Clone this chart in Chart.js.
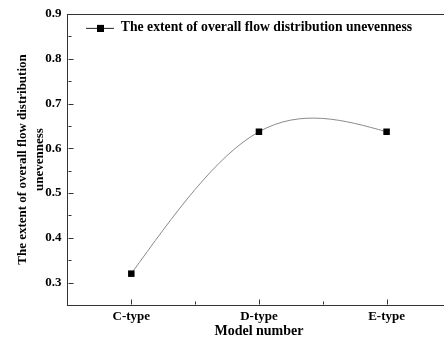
<!DOCTYPE html>
<html>
<head>
<meta charset="utf-8">
<script src="https://cdn.jsdelivr.net/npm/chart.js@4.4.1/dist/chart.umd.min.js"></script>
<style>
  html, body { margin: 0; padding: 0; background: #fff; overflow: hidden; }
  #wrap { width: 455px; height: 338px; }
</style>
</head>
<body>
<div id="wrap"><canvas id="c" width="455" height="338"></canvas></div>
<script>
// ---- data ----
const categories = ['C-type', 'D-type', 'E-type'];
const unevenness = [0.320, 0.637, 0.637];
const yTicks = [0.3, 0.4, 0.5, 0.6, 0.7, 0.8, 0.9];
const seriesLabel = 'The extent of overall flow distribution unevenness';
const xTitle = 'Model number';
const yTitle = ['The extent of overall flow distribution', 'unevenness'];

const FONT = '"Liberation Serif", "Times New Roman", serif';
const AXIS = '#333';

// legend sample: line with square marker
function legendSample() {
  const c = document.createElement('canvas');
  c.width = 28; c.height = 8;
  const g = c.getContext('2d');
  g.strokeStyle = '#222'; g.lineWidth = 1;
  g.beginPath(); g.moveTo(0, 4.5); g.lineTo(28, 4.5); g.stroke();
  g.fillStyle = '#000'; g.fillRect(11, 1, 7, 7);
  return c;
}
const sample = legendSample();

// natural cubic spline slopes (for points with x increasing)
function naturalSlopes(pts) {
  const n = pts.length;
  if (n < 2) return [0];
  const h = [], d = [];
  for (let i = 0; i < n - 1; i++) { h.push(pts[i + 1].x - pts[i].x); d.push((pts[i + 1].y - pts[i].y) / h[i]); }
  const M = new Array(n).fill(0);
  if (n > 2) {
    const m = n - 2, a = [], b = [], c = [], r = [];
    for (let i = 1; i < n - 1; i++) {
      a.push(h[i - 1]); b.push(2 * (h[i - 1] + h[i])); c.push(h[i]); r.push(6 * (d[i] - d[i - 1]));
    }
    for (let i = 1; i < m; i++) { const w = a[i] / b[i - 1]; b[i] -= w * c[i - 1]; r[i] -= w * r[i - 1]; }
    const sol = new Array(m);
    sol[m - 1] = r[m - 1] / b[m - 1];
    for (let i = m - 2; i >= 0; i--) sol[i] = (r[i] - c[i] * sol[i + 1]) / b[i];
    for (let i = 0; i < m; i++) M[i + 1] = sol[i];
  }
  const s = [];
  for (let i = 0; i < n - 1; i++) s.push(d[i] - h[i] * (2 * M[i] + M[i + 1]) / 6);
  s.push(d[n - 2] + h[n - 2] * (M[n - 2] + 2 * M[n - 1]) / 6);
  return s;
}

const splinePlugin = {
  id: 'naturalSpline',
  beforeDatasetDraw(chart, args) {
    const meta = args.meta;
    const pts = meta.data;
    if (!pts || pts.length < 2) return;
    const s = naturalSlopes(pts);
    for (let i = 0; i < pts.length; i++) {
      const p = pts[i];
      const hp = i > 0 ? (p.x - pts[i - 1].x) / 3 : 0;
      const hn = i < pts.length - 1 ? (pts[i + 1].x - p.x) / 3 : 0;
      p.cp1x = p.x - hp; p.cp1y = p.y - s[i] * hp;
      p.cp2x = p.x + hn; p.cp2y = p.y + s[i] * hn;
    }
    meta.dataset._pointsUpdated = true;
  }
};

const framePlugin = {
  id: 'frame',
  beforeDraw(chart) {
    const lg = chart.legend;
    if (lg) { lg.left = chart.chartArea.left + 8.5; lg.top = chart.chartArea.top - 3; }
  },
  afterDraw(chart) {
    const { ctx, chartArea: a, scales: { x, y } } = chart;
    ctx.save();
    ctx.strokeStyle = AXIS; ctx.lineWidth = 1;
    ctx.beginPath();
    ctx.moveTo(a.left, Math.round(a.top) + 0.5);
    ctx.lineTo(a.right, Math.round(a.top) + 0.5);
    ctx.stroke();
    const L = Math.round(a.left) + 0.5, B = Math.round(a.bottom) - 0.5;
    for (let i = 0; i < y.ticks.length; i++) {
      const v = y.ticks[i].value;
      const p = Math.round(y.getPixelForValue(v)) + 0.5;
      ctx.beginPath(); ctx.moveTo(L, p); ctx.lineTo(L + 5, p); ctx.stroke();
      const mp = Math.round(y.getPixelForValue(v - 0.05)) + 0.5;
      ctx.beginPath(); ctx.moveTo(L, mp); ctx.lineTo(L + 3, mp); ctx.stroke();
    }
    for (let i = 0; i < categories.length; i++) {
      const p = Math.round(x.getPixelForValue(i)) + 0.5;
      ctx.beginPath(); ctx.moveTo(p, B); ctx.lineTo(p, B - 5); ctx.stroke();
      if (i > 0) {
        const mp = Math.round(x.getPixelForValue(i - 0.5)) + 0.5;
        ctx.beginPath(); ctx.moveTo(mp, B); ctx.lineTo(mp, B - 3); ctx.stroke();
      }
    }
    ctx.restore();
  }
};

new Chart(document.getElementById('c'), {
  type: 'line',
  data: {
    labels: categories,
    datasets: [{
      label: seriesLabel,
      data: unevenness,
      borderColor: '#8a8a8a',
      borderWidth: 1,
      tension: 0.4,
      pointStyle: 'rect',
      pointRadius: 4.6,
      pointBackgroundColor: '#000',
      pointBorderColor: '#000',
      pointBorderWidth: 0,
      fill: false
    }]
  },
  options: {
    responsive: false,
    animation: false,
    devicePixelRatio: 1,
    layout: { padding: { top: 14, left: 0, right: 0, bottom: 0 } },
    plugins: {
      tooltip: { enabled: false },
      legend: {
        position: 'chartArea',
        align: 'start',
        labels: {
          usePointStyle: true,
          pointStyleWidth: 28,
          padding: 10,
          color: '#000',
          font: { family: FONT, size: 13.7, weight: 'bold' },
          generateLabels(chart) {
            return chart.data.datasets.map((d, i) => ({
              text: d.label, pointStyle: sample, datasetIndex: i,
              fillStyle: '#000', strokeStyle: '#000', lineWidth: 0, fontColor: '#000'
            }));
          }
        }
      }
    },
    scales: {
      x: {
        type: 'category',
        offset: true,
        grid: { display: false, drawTicks: false },
        border: { display: true, color: AXIS, width: 1 },
        ticks: { color: '#000', padding: 4, font: { family: FONT, size: 13, weight: 'bold' } },
        title: { display: true, text: xTitle, color: '#000', padding: { top: 0, bottom: 0 },
                 font: { family: FONT, size: 14, weight: 'bold', lineHeight: 1.0 } },
        afterFit(s) { s.height = 33; }
      },
      y: {
        type: 'linear',
        min: 0.25, max: 0.9,
        grid: { display: false, drawTicks: false },
        border: { display: true, color: AXIS, width: 1 },
        afterBuildTicks(s) { s.ticks = yTicks.map(v => ({ value: v })); },
        ticks: { color: '#000', padding: 6, font: { family: FONT, size: 13, weight: 'bold' },
                 callback: v => Number(v).toFixed(1) },
        title: { display: true, text: yTitle, color: '#000', padding: { top: 14.5, bottom: 0 },
                 font: { family: FONT, size: 13, weight: 'bold', lineHeight: 1.3 } },
        afterFit(s) { s.width = 67.5; }
      }
    }
  },
  plugins: [splinePlugin, framePlugin]
});
</script>
</body>
</html>
